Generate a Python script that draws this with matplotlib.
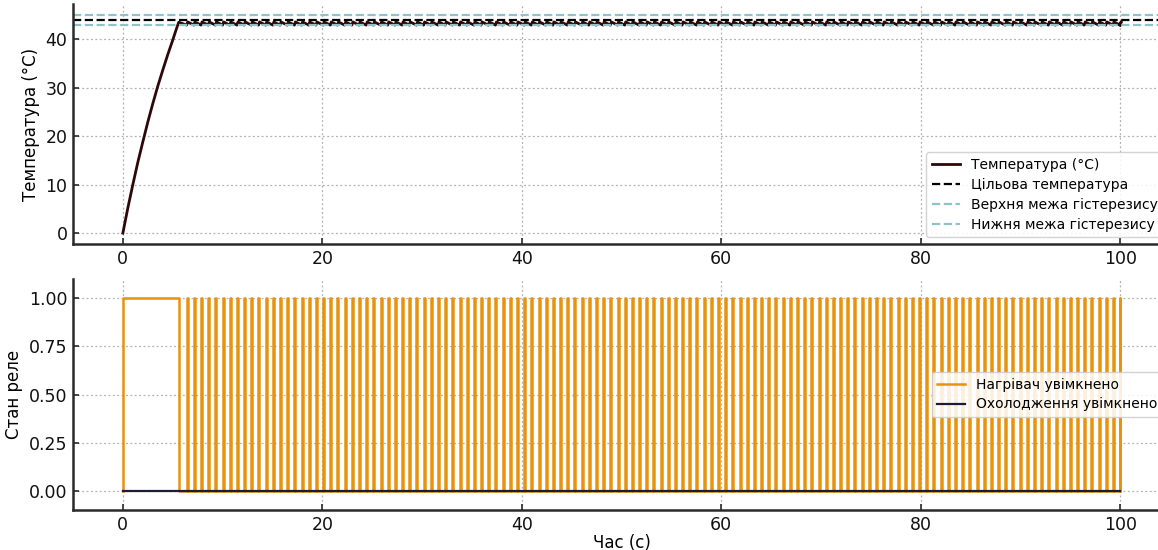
import numpy as np
import matplotlib
matplotlib.use("Agg")
import matplotlib.pyplot as plt

# ---- data ----
ramp_t = [0.0, 0.5, 1.0, 1.5, 2.0, 2.5, 3.0, 3.5, 4.0, 4.5, 5.0, 5.3, 5.6]
ramp_T = [0.0, 5.2, 10.0, 14.6, 18.8, 22.9, 26.7, 30.3, 33.6, 36.8, 39.8, 41.7, 43.5]
target_temp = 44.0
upper_limit = 45.0
lower_limit = 43.0
first_on_end = 5.6          # heater continuously on until here
first_pulse = 6.4           # first short pulse
pulse_period = 0.72         # spacing of heater pulses
pulse_width = 0.1           # duration of each pulse
osc_low = 42.9              # temperature just before a pulse
osc_high = 43.55            # temperature right after a pulse
t_end = 100.0

xticks = [0, 20, 40, 60, 80, 100]
temp_yticks = [0, 10, 20, 30, 40]
relay_yticks = [0.0, 0.25, 0.5, 0.75, 1.0]

# ---- build series ----
pulse_starts = np.arange(first_pulse, t_end + 1e-6, pulse_period)
temp_t = list(ramp_t)
temp_v = list(ramp_T)
for s in pulse_starts:
    if s >= t_end:
        break
    temp_t += [s, s + pulse_width]
    temp_v += [osc_low, osc_high]
temp_t.append(t_end)
temp_v.append(osc_low)

heat_t = [0.0, 0.0, first_on_end]
heat_v = [0, 1, 0]
for s in pulse_starts:
    heat_t += [s, min(s + pulse_width, t_end)]
    heat_v += [1, 0]

cool_t = [0.0, t_end]
cool_v = [0, 0]

# ---- plot ----
W, H = 1158, 550
fig = plt.figure(figsize=(W / 100, H / 100), dpi=100)
left = 73 / W
width = (1170 - 73) / W
ax1 = fig.add_axes([left, 1 - 244 / H, width, (244 - 4) / H])
ax2 = fig.add_axes([left, 1 - 510 / H, width, (510 - 279) / H])

spine_col = "#2a2a2a"
grid_kw = dict(color="#b0b0b0", linestyle=(0, (1.5, 2)), linewidth=0.9)

ax1.plot(temp_t, temp_v, color="#2e0808", lw=2.0, label="Температура (°C)")
ax1.axhline(target_temp, color="black", ls="--", lw=1.6, label="Цільова температура")
ax1.axhline(upper_limit, color="#8fc3c9", ls="--", lw=1.6, label="Верхня межа гістерезису")
ax1.axhline(lower_limit, color="#8fc3c9", ls="--", lw=1.6, label="Нижня межа гістерезису")
ax1.set_xlim(-5, 105)
ax1.set_ylim(-2.25, 47.25)
ax1.set_xticks(xticks)
ax1.set_yticks(temp_yticks)
ax1.set_ylabel("Температура (°C)", fontsize=12)
ax1.legend(loc="lower right", fontsize=10, labelspacing=0.42, handlelength=2.0,
           framealpha=0.85, edgecolor="#cccccc", fancybox=True)

ax2.plot(heat_t, heat_v, drawstyle="steps-post", color="#e8920e", lw=1.8, label="Нагрівач увімкнено")
ax2.plot(cool_t, cool_v, color="#1c1c3a", lw=1.6, label="Охолодження увімкнено", zorder=3)
ax2.set_xlim(-5, 105)
ax2.set_ylim(-0.1, 1.1)
ax2.set_xticks(xticks)
ax2.set_yticks(relay_yticks)
ax2.set_yticklabels([f"{v:.2f}" for v in relay_yticks])
ax2.set_ylabel("Стан реле", fontsize=12)
ax2.set_xlabel("Час (с)", fontsize=12, labelpad=0)
ax2.legend(loc="center right", fontsize=10, labelspacing=0.42, handlelength=2.0,
           framealpha=0.85, edgecolor="#cccccc", fancybox=True)

for ax in (ax1, ax2):
    ax.grid(True, **grid_kw)
    ax.set_axisbelow(True)
    for s in ("top", "right"):
        ax.spines[s].set_visible(False)
    for s in ("left", "bottom"):
        ax.spines[s].set_color(spine_col)
        ax.spines[s].set_linewidth(1.8)
    ax.tick_params(direction="in", length=4, width=1.2, colors=spine_col, labelsize=12.5,
                   labelcolor="#111111", pad=4)

fig.savefig("out.png", dpi=100)
